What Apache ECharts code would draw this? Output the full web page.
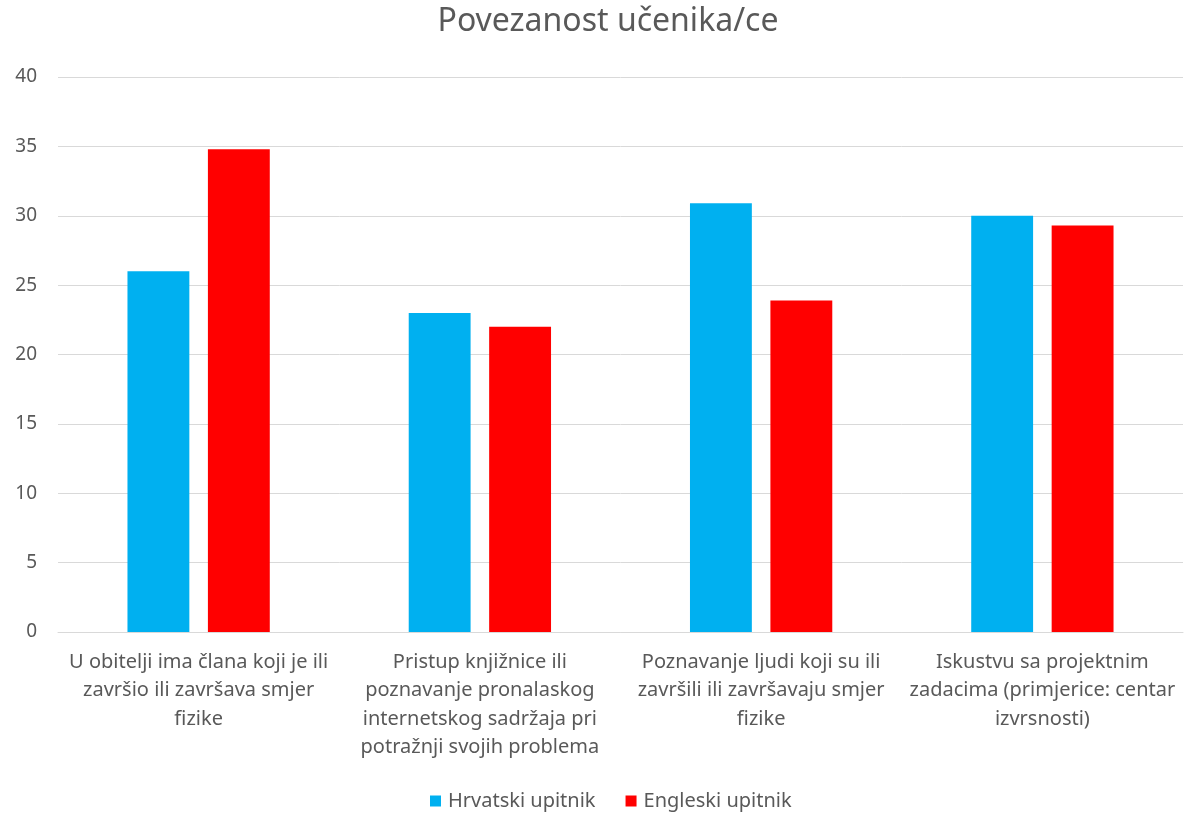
<!DOCTYPE html>
<html>
<head>
<meta charset="utf-8">
<script src="https://cdn.jsdelivr.net/npm/echarts@6/dist/echarts.min.js"></script>
<style>html,body{margin:0;padding:0;background:#fff}#c{width:1184px;height:816px}</style>
</head>
<body>
<div id="c"></div>
<script>
const categories = [
  "U obitelji ima člana koji je ili\nzavršio ili završava smjer\nfizike",
  "Pristup knjižnice ili\npoznavanje pronalaskog\ninternetskog sadržaja pri\npotražnji svojih problema",
  "Poznavanje ljudi koji su ili\nzavršili ili završavaju smjer\nfizike",
  "Iskustvu sa projektnim\nzadacima (primjerice: centar\nizvrsnosti)"
];
const seriesNames = ["Hrvatski upitnik", "Engleski upitnik"];
const hrvatski = [26, 23, 30.9, 30];
const engleski = [34.8, 22, 23.9, 29.3];
const yTicks = [0, 5, 10, 15, 20, 25, 30, 35, 40];

const font = "'Noto Sans', 'Open Sans', sans-serif";
const chart = echarts.init(document.getElementById('c'));
chart.setOption({
  animation: false,
  title: {
    text: "Povezanost učenika/ce",
    left: 603, textAlign: 'center', top: 1,
    textStyle: {color: '#595959', fontSize: 32, fontWeight: 'normal', fontFamily: font}
  },
  legend: {
    bottom: 0, left: 425,
    itemWidth: 11, itemHeight: 11, itemGap: 30,
    icon: 'rect',
    textStyle: {color: '#595959', fontSize: 20, fontFamily: font, padding: [0, 0, 0, 2]},
    data: seriesNames
  },
  grid: {left: 58, right: 1, top: 77, bottom: 184, containLabel: false},
  xAxis: {
    type: 'category',
    data: categories,
    axisLine: {show: true, lineStyle: {color: '#d9d9d9'}},
    axisTick: {show: false},
    axisLabel: {color: '#595959', fontSize: 20, fontFamily: font, lineHeight: 28.5, margin: 16, interval: 0}
  },
  yAxis: {
    type: 'value',
    min: yTicks[0], max: yTicks[yTicks.length - 1], interval: 5,
    axisLine: {show: false},
    axisTick: {show: false},
    splitLine: {lineStyle: {color: '#d9d9d9', width: 1}},
    axisLabel: {color: '#595959', fontSize: 19, fontFamily: font, margin: 21}
  },
  series: [
    {name: seriesNames[0], type: 'bar', data: hrvatski, itemStyle: {color: '#00b0f0'}, barWidth: '22%', barGap: '30%'},
    {name: seriesNames[1], type: 'bar', data: engleski, itemStyle: {color: '#ff0000'}, barWidth: '22%', barGap: '30%'}
  ]
});
</script>
</body>
</html>
